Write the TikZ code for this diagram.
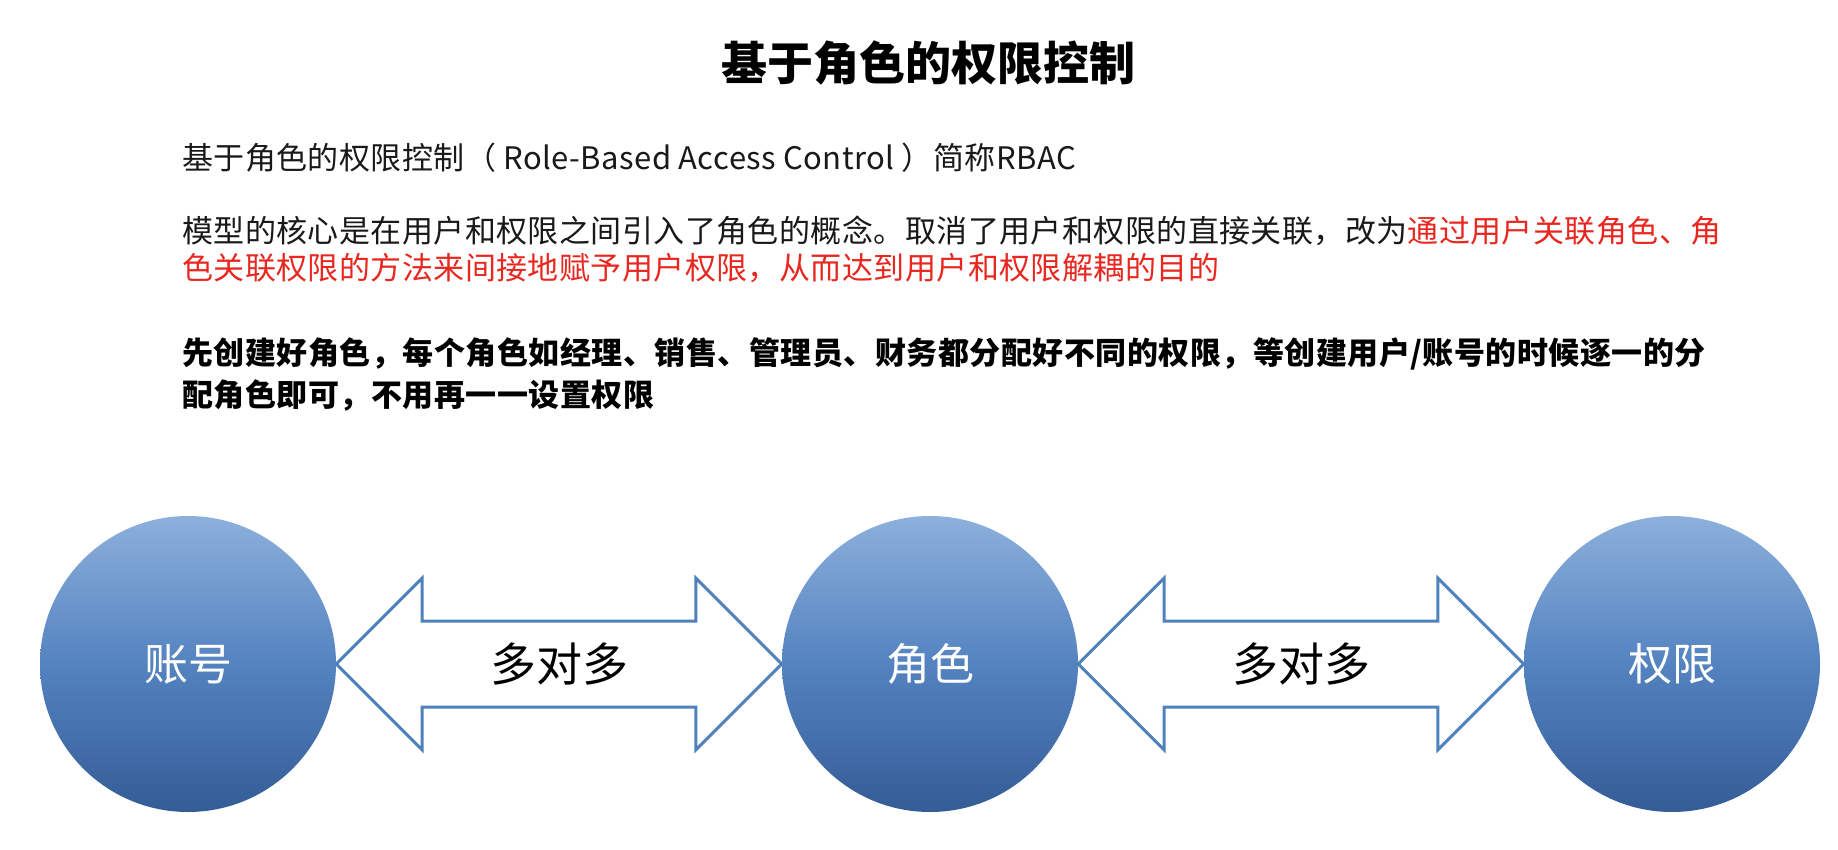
\documentclass[tikz,border=0pt]{standalone}
\usepackage{fontspec}
\newfontfamily\cjk{Noto Sans CJK SC}
\usetikzlibrary{calc}
\definecolor{arrowblue}{RGB}{79,129,189}
\definecolor{topblue}{RGB}{141,176,220}
\definecolor{midblue}{RGB}{84,131,192}
\definecolor{botblue}{RGB}{52,92,150}
\definecolor{redtext}{RGB}{232,40,32}
\definecolor{bodytext}{RGB}{25,25,25}
\begin{document}
\begin{tikzpicture}[x=1pt,y=-1pt,
  ball/.style={circle, minimum size=296pt, inner sep=0pt, shade, top color=topblue, bottom color=botblue, middle color=midblue, text=white, font=\cjk\fontsize{44}{50}\selectfont},
  blockarrow/.style={draw=arrowblue, line width=3pt, fill=white, line join=miter},
  arrowlabel/.style={inner sep=0pt, font=\cjk\fontsize{46}{52}\selectfont, text=black},
  titletext/.style={inner sep=0pt, font=\cjk\bfseries\fontsize{46}{52}\selectfont, text=black},
  textline/.style={anchor=west, inner sep=0pt, font=\cjk\fontsize{31}{36}\selectfont\addfontfeature{LetterSpace=1.4}, text=bodytext},
  boldline/.style={anchor=west, inner sep=0pt, font=\cjk\bfseries\fontsize{31}{36}\selectfont\addfontfeature{LetterSpace=1.6}, text=black}
]
\useasboundingbox (0,0) rectangle (1838,850);
\fill[white] (0,0) rectangle (1838,850);

\node[titletext] (title) at (928,63) {基于角色的权限控制};

\node[textline] (l1) at (182,158) {基于角色的权限控制（ Role-Based Access Control ）简称RBAC};
\node[textline] (l2) at (182,231) {模型的核心是在用户和权限之间引入了角色的概念。取消了用户和权限的直接关联，改为\textcolor{redtext}{通过用户关联角色、角}};
\node[textline, text=redtext] (l3) at (182,268) {色关联权限的方法来间接地赋予用户权限，从而达到用户和权限解耦的目的};
\node[boldline] (l4) at (182,354) {先创建好角色，每个角色如经理、销售、管理员、财务都分配好不同的权限，等创建用户/账号的时候逐一的分};
\node[boldline] (l5) at (182,395) {配角色即可，不用再一一设置权限};

\node[ball] (c1) at (188,664) {账号};
\node[ball] (c2) at (930,664) {角色};
\node[ball] (c3) at (1672,664) {权限};

\draw[blockarrow] (c1.east) -- ++(86,-86) -- ++(0,43) -- ($(c2.west)+(-86,-43)$) -- ++(0,-43) -- (c2.west) -- ++(-86,86) -- ++(0,-43) -- ($(c1.east)+(86,43)$) -- ++(0,43) -- cycle;
\draw[blockarrow] (c2.east) -- ++(86,-86) -- ++(0,43) -- ($(c3.west)+(-86,-43)$) -- ++(0,-43) -- (c3.west) -- ++(-86,86) -- ++(0,-43) -- ($(c2.east)+(86,43)$) -- ++(0,43) -- cycle;

\node[arrowlabel] (m1) at ($(c1.east)!0.5!(c2.west)$) {多对多};
\node[arrowlabel] (m2) at ($(c2.east)!0.5!(c3.west)$) {多对多};
\end{tikzpicture}
\end{document}
